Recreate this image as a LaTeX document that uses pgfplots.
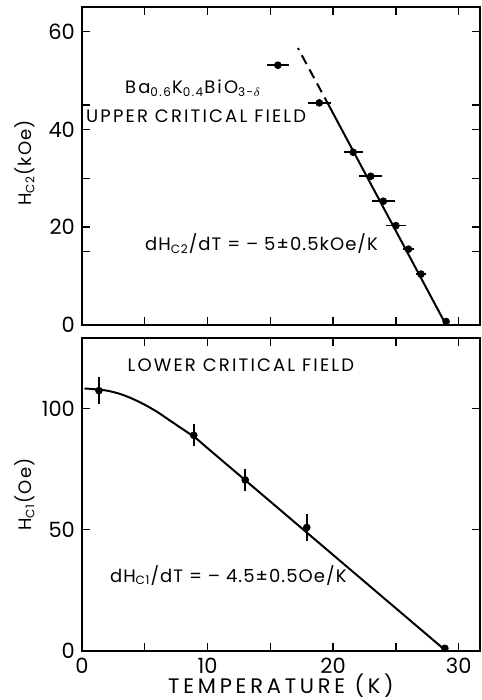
\documentclass[border=0pt]{standalone}
\usepackage{pgfplots}
\pgfplotsset{compat=1.18}
\usepackage{fontspec}
\setmainfont{Poppins}
\newfontfamily\lbl{Poppins}[LetterSpace=12]
\newfontfamily\lbln{Poppins}[LetterSpace=6]
\newfontfamily\lblw{Poppins}[LetterSpace=18]

\tikzset{
  txt/.style={anchor=base west, font=\lbl\fontsize{9}{10}\selectfont, inner sep=0pt},
  eq/.style={anchor=base west, font=\lbln\fontsize{9}{10}\selectfont, inner sep=0pt},
}

\pgfplotsset{
  panel/.style={
    scale only axis, width=199pt, xmin=0, xmax=31.7,
    tick align=inside, clip=false,
    xtick={0,10,20,30}, minor xtick={5,15,25},
    major tick length=4pt, minor tick length=4pt,
    axis line style={line width=0.8pt},
    every tick/.style={line width=0.7pt, black},
    /pgf/number format/assume math mode=true,
    ticklabel style={font=\fontsize{10.5}{10.5}\selectfont},
  },
  pts/.style={only marks, mark=*, black, mark size=1.7pt,
    mark options={fill=black, draw=black},
    error bars/error mark=none,
    error bars/error bar style={line width=0.8pt, black}},
}

\begin{document}
\begin{tikzpicture}
\path (-41pt,-24.5pt) rectangle (199.5pt,325.5pt);

% upper critical field
\begin{axis}[panel, at={(0pt,163pt)}, anchor=south west, height=159pt,
  ymin=0, ymax=65, ytick={0,20,40,60}, minor ytick={15,30,45},
  xticklabels={}]
  \addplot[pts, error bars/x dir=both, error bars/x explicit]
    table[x=T, y=H, x error=dT] {
  T     H     dT
  15.6  53.1  0.90
  18.9  45.4  0.93
  21.6  35.3  0.77
  23.0  30.4  0.93
  24.0  25.3  0.90
  25.0  20.3  0.78
  26.0  15.5  0.44
  27.0  10.4  0.37
  29.0  0.7   0
  };
  \addplot[black, line width=1pt] coordinates {(29,0) (19.7,44.7)};
  \addplot[black, line width=1pt, dash pattern=on 5pt off 3pt]
    coordinates {(19.7,44.7) (17.2,56.6)};
  \node[rotate=90, font=\lbln\fontsize{9}{10}\selectfont]
    at (rel axis cs:-0.143,0.51) {H\textsubscript{C2}(kOe)};
  \node[txt] at (axis cs:3.4,47.3)
    {Ba\textsubscript{0.6}K\textsubscript{0.4}BiO\textsubscript{3-$\delta$}};
  \node[txt] at (axis cs:0.3,41.4) {UPPER CRITICAL FIELD};
  \node[eq] at (axis cs:5.0,15.2) {dH\textsubscript{C2}/dT = – 5±0.5kOe/K};
\end{axis}

% lower critical field
\begin{axis}[panel, at={(0pt,0pt)}, anchor=south west, height=156.5pt,
  ymin=0, ymax=129, ytick={0,50,100}]
  \addplot[pts, error bars/y dir=both, error bars/y explicit]
    table[x=T, y=H, y error=dH] {
  T     H      dH
  1.35  107.3  5.5
  8.9   88.9   4.5
  13.0  70.5   4.6
  17.9  50.9   5.7
  28.9  1.1    0
  };
  \addplot[black, line width=1pt, smooth] coordinates {
    (0.2,108.2) (1,107.9) (2,107.3) (3,106) (4,104) (5,101.5) (6,98.5)
    (7,95) (8,91.5) (9,88) (10,83.6) (13,70.4) (18,48.4) (29,0)};
  \node[rotate=90, font=\lbln\fontsize{9}{10}\selectfont]
    at (rel axis cs:-0.143,0.5) {H\textsubscript{C1}(Oe)};
  \node[font=\lblw\fontsize{10.5}{11}\selectfont, inner sep=0pt]
    at (rel axis cs:0.5,-0.112) {TEMPERATURE (K)};
  \node[txt] at (axis cs:3.6,115.1) {LOWER CRITICAL FIELD};
  \node[eq] at (axis cs:2.2,28.3) {dH\textsubscript{C1}/dT = – 4.5±0.5Oe/K};
\end{axis}
\end{tikzpicture}
\end{document}
